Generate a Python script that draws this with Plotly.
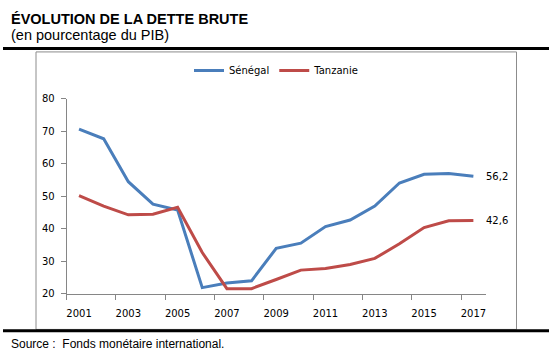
import plotly.graph_objects as go

W, H = 549, 362

years = list(range(2001, 2018))
senegal = [70.7, 67.7, 54.5, 47.6, 45.8, 21.9, 23.3, 24.0, 34.0, 35.6, 40.7, 42.7, 47.0, 54.1, 56.8, 57.0, 56.2]
tanzanie = [50.2, 47.0, 44.3, 44.5, 46.6, 32.7, 21.6, 21.6, 24.4, 27.3, 27.8, 29.0, 30.9, 35.4, 40.4, 42.5, 42.6]
x_tick_years = [2001, 2003, 2005, 2007, 2009, 2011, 2013, 2015, 2017]
y_ticks = [20, 30, 40, 50, 60, 70, 80]

BLUE = "#4A7EBB"
RED = "#BE4B48"
GRAY = "#868686"
FONT = "DejaVu Sans"


def px(x):
    return x / W


def py(y):
    return 1 - y / H


fig = go.Figure()
fig.add_trace(go.Scatter(x=years, y=senegal, mode="lines", name="Sénégal",
                         line=dict(color=BLUE, width=3)))
fig.add_trace(go.Scatter(x=years, y=tanzanie, mode="lines", name="Tanzanie",
                         line=dict(color=RED, width=3)))

fig.update_layout(
    width=W, height=H, autosize=False,
    margin=dict(l=0, r=0, t=0, b=0),
    paper_bgcolor="white", plot_bgcolor="white",
    font=dict(family=FONT, size=10, color="#000000"),
    showlegend=True,
    legend=dict(orientation="h", x=px(189), y=py(66.7), xanchor="left", yanchor="middle",
                font=dict(family=FONT, size=10, color="#000"),
                bgcolor="rgba(0,0,0,0)", itemwidth=30, tracegroupgap=0),
    xaxis=dict(
        domain=[px(66.7), px(485.7)],
        range=[2000.5, 2017.5],
        showgrid=False, zeroline=False,
        showline=True, linecolor=GRAY, linewidth=1,
        tickmode="array", tickvals=x_tick_years,
        ticktext=[str(y) for y in x_tick_years],
        ticks="outside", ticklen=10, tickcolor="rgba(0,0,0,0)",
        minor=dict(tickmode="linear", tick0=2000.5, dtick=2, ticks="outside",
                   ticklen=5, tickcolor=GRAY, tickwidth=1, showgrid=False),
        tickfont=dict(family=FONT, size=10, color="#000"),
    ),
    yaxis=dict(
        domain=[py(297.7), py(96)],
        range=[20, 80],
        showgrid=False, zeroline=False,
        showline=True, linecolor=GRAY, linewidth=1,
        tickmode="array", tickvals=y_ticks,
        ticks="outside", ticklen=5, tickcolor=GRAY,
        tickfont=dict(family=FONT, size=10, color="#000"),
        ticklabelstandoff=4,
    ),
)

# end labels
for series in (senegal, tanzanie):
    fig.add_annotation(x=years[-1], y=series[-1], xref="x", yref="y",
                       text=f"{series[-1]:.1f}".replace(".", ","),
                       showarrow=False, xanchor="left", yanchor="middle",
                       xshift=11, font=dict(family=FONT, size=10, color="#000"))

# frame and rules
fig.add_shape(type="rect", xref="paper", yref="paper",
              x0=px(36), x1=px(516.5), y0=py(334.5), y1=py(47.5),
              line=dict(color="#8C8C8C", width=1), fillcolor="rgba(0,0,0,0)")
fig.add_shape(type="line", xref="paper", yref="paper",
              x0=px(3), x1=1, y0=py(44), y1=py(44),
              line=dict(color="#000", width=3))
fig.add_shape(type="line", xref="paper", yref="paper",
              x0=px(3), x1=1, y0=py(336), y1=py(336),
              line=dict(color="#000", width=3))

# title, subtitle, source
fig.add_annotation(x=px(9), y=py(13.5), xref="paper", yref="paper",
                   text="<b>ÉVOLUTION DE LA DETTE BRUTE</b>", showarrow=False,
                   xanchor="left", yanchor="middle",
                   font=dict(family="Liberation Sans", size=14.5, color="#000"))
fig.add_annotation(x=px(9), y=py(29.5), xref="paper", yref="paper",
                   text="(en pourcentage du PIB)", showarrow=False,
                   xanchor="left", yanchor="middle",
                   font=dict(family="Liberation Sans", size=14.5, color="#000"))
fig.add_annotation(x=px(9), y=py(350), xref="paper", yref="paper",
                   text="Source :  Fonds monétaire international.", showarrow=False,
                   xanchor="left", yanchor="middle",
                   font=dict(family="Liberation Sans", size=12, color="#000"))

fig.write_html("out.html", config={"displayModeBar": False},
               post_script="document.body.style.margin='0';document.body.style.overflow='hidden';")
